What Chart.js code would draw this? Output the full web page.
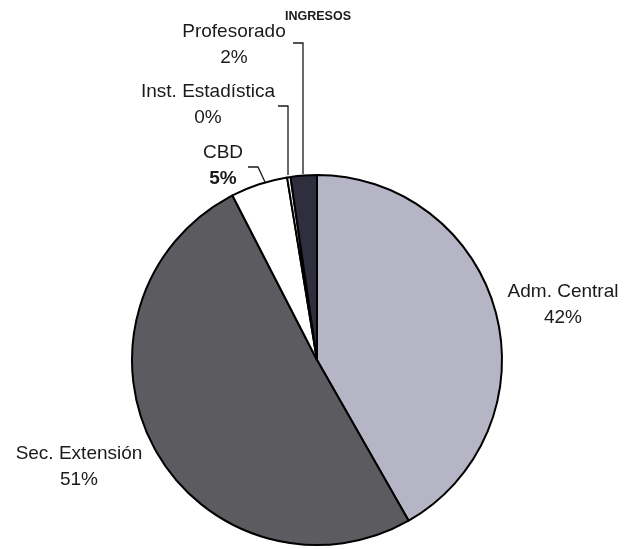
<!DOCTYPE html>
<html>
<head>
<meta charset="utf-8">
<script src="https://cdn.jsdelivr.net/npm/chart.js@4.4.0/dist/chart.umd.min.js"></script>
<style>
html,body{margin:0;padding:0;background:#fff;}
#c{display:block;}
</style>
</head>
<body>
<canvas id="c" width="625" height="549"></canvas>
<script>
const title = "INGRESOS";
const categories = ["Adm. Central", "Sec. Extensión", "CBD", "Inst. Estadística", "Profesorado"];
const values = [42, 51, 5, 0.3, 2.3];
const colors = ["#b5b5c5", "#5b5b60", "#ffffff", "#ffffff", "#2e2e3c"];
const boldPct = [false, false, true, false, false];

// label anchor positions (text centre) and leader paths
const labelPos = [
  {x: 563, y: 292},
  {x: 79, y: 454},
  {x: 223, y: 153},
  {x: 208, y: 92},
  {x: 234, y: 32}
];
const leaders = [
  null,
  null,
  [[248,167],[258,167],[265,182]],
  [[278,106],[288,106],[288,175]],
  [[293,43],[303,43],[303,174]]
];

const labelPlugin = {
  id: 'labels',
  afterDraw(chart) {
    const ctx = chart.ctx;
    const total = values.reduce((a,b)=>a+b,0);
    ctx.save();
    ctx.fillStyle = '#1a1a1a';
    ctx.textAlign = 'center';
    ctx.textBaseline = 'middle';
    ctx.font = 'bold 12.5px "Liberation Sans", Arial, sans-serif';
    ctx.fillText(title, 318, 17);
    categories.forEach((c, i) => {
      const p = labelPos[i];
      ctx.font = '19px "Liberation Sans", Arial, sans-serif';
      ctx.fillText(c, p.x, p.y);
      ctx.font = (boldPct[i] ? 'bold ' : '') + '19px "Liberation Sans", Arial, sans-serif';
      ctx.fillText(Math.round(values[i] / total * 100) + '%', p.x, p.y + 26);
      const l = leaders[i];
      if (l) {
        ctx.strokeStyle = '#1a1a1a';
        ctx.lineWidth = 1.3;
        ctx.beginPath();
        ctx.moveTo(l[0][0], l[0][1]);
        for (let k = 1; k < l.length; k++) ctx.lineTo(l[k][0], l[k][1]);
        ctx.stroke();
      }
    });
    ctx.restore();
  }
};

new Chart(document.getElementById('c'), {
  type: 'pie',
  data: {
    labels: categories,
    datasets: [{
      data: values,
      backgroundColor: colors,
      borderColor: '#000',
      borderWidth: 2
    }]
  },
  options: {
    responsive: false,
    animation: false,
    layout: {padding: {left: 131, right: 122, top: 173, bottom: 2}},
    plugins: {legend: {display: false}, tooltip: {enabled: false}, title: {display: false}}
  },
  plugins: [labelPlugin]
});
</script>
</body>
</html>
